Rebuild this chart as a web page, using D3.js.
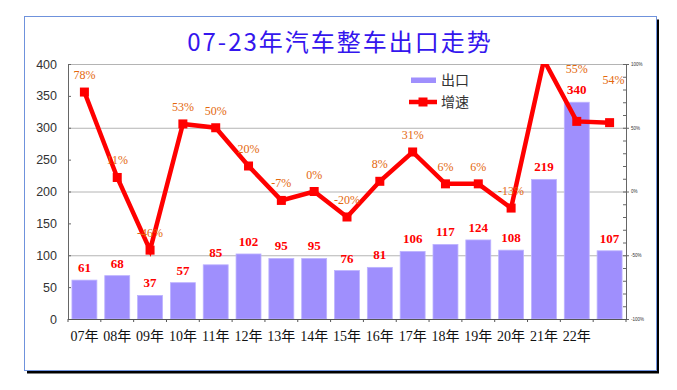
<!DOCTYPE html>
<html><head><meta charset="utf-8">
<script src="https://cdn.jsdelivr.net/npm/d3@7"></script>
<style>html,body{margin:0;padding:0;background:#fff;}svg{display:block;}</style>
</head><body>
<svg id="chart" width="677" height="390"></svg>
<script>
const title = "07-23年汽车整车出口走势";
const categories = ["07年","08年","09年","10年","11年","12年","13年","14年","15年","16年","17年","18年","19年","20年","21年","22年",""];
const exports = [61,68,37,57,85,102,95,95,76,81,106,117,124,108,219,340,107];
const growth = [78,11,-46,53,50,20,-7,0,-20,8,31,6,6,-13,103,55,54];
const leftTicks = [0,50,100,150,200,250,300,350,400];
const rightTicks = [-100,-50,0,50,100];
const legendNames = ["出口","增速"];

const svg = d3.select("#chart");
const L = 68, R = 626, T = 64, B = 319;

// frame with shadow
svg.append("rect").attr("x",27).attr("y",19.5).attr("width",632).attr("height",354).attr("fill","#000");
svg.append("rect").attr("x",24.5).attr("y",16.5).attr("width",632).attr("height",354)
  .attr("fill","#fff").attr("stroke","#6f92dc").attr("stroke-width",1);

// title
svg.append("text").attr("x",340).attr("y",51).attr("text-anchor","middle")
  .attr("font-family","'Noto Sans CJK SC', sans-serif").attr("font-size",24)
  .attr("letter-spacing","2px").attr("fill","#3416ee").text(title);

const x = d3.scaleBand().domain(d3.range(categories.length)).range([L,R]).paddingInner(0.24).paddingOuter(0.12);
const y = d3.scaleLinear().domain([0,400]).range([B,T]);
const y2 = d3.scaleLinear().domain([-100,100]).range([B,T]);

// gridlines every 100
svg.append("g").selectAll("line").data([100,200,300,400]).join("line")
  .attr("x1",L).attr("x2",R).attr("y1",d=>y(d)+0.5).attr("y2",d=>y(d)+0.5)
  .attr("stroke","#b4b4b4").attr("stroke-width",1);

// bars
svg.append("g").selectAll("rect").data(exports).join("rect")
  .attr("x",(d,i)=>x(i)).attr("width",x.bandwidth())
  .attr("y",d=>y(d)).attr("height",d=>B-y(d))
  .attr("fill","#9f8ffd").attr("stroke","#bdb3ff").attr("stroke-width",0.8);

// left axis
const gl = svg.append("g").attr("transform",`translate(${L},0)`)
  .call(d3.axisLeft(y).tickValues(leftTicks).tickSize(-3).tickPadding(11));
gl.select(".domain").attr("stroke","#666");
gl.selectAll(".tick line").attr("stroke","#666");
gl.selectAll("text").attr("font-family","'Liberation Sans', Arial, sans-serif").attr("font-size",12.5).attr("fill","#333");

// right axis
const gr = svg.append("g").attr("transform",`translate(${R},0)`)
  .call(d3.axisRight(y2).tickValues(rightTicks).tickSize(3).tickPadding(2).tickFormat(d=>d+"%"));
gr.select(".domain").attr("stroke","#666");
gr.selectAll(".tick line").attr("stroke","#666");
gr.selectAll("text").attr("font-family","'Liberation Sans', Arial, sans-serif").attr("font-size",4.5).attr("fill","#333");
svg.append("g").selectAll("line").data(d3.range(-100,101,10)).join("line")
  .attr("x1",R-3).attr("x2",R).attr("y1",d=>y2(d)+0.5).attr("y2",d=>y2(d)+0.5)
  .attr("stroke","#666").attr("stroke-width",1);

// x axis
const gx = svg.append("g").attr("transform",`translate(0,${B})`)
  .call(d3.axisBottom(x).tickSize(0).tickPadding(12).tickFormat(i=>categories[i]));
gx.select(".domain").attr("stroke","#555");
gx.selectAll("text").attr("font-family","'Liberation Serif', 'Noto Sans CJK SC', serif").attr("font-size",14).attr("fill","#111");
svg.append("g").selectAll("line").data(d3.range(categories.length+1)).join("line")
  .attr("x1",i=>L+i*x.step()).attr("x2",i=>L+i*x.step()).attr("y1",B).attr("y2",B+3)
  .attr("stroke","#555");

// bar labels
svg.append("g").selectAll("text").data(exports).join("text")
  .attr("x",(d,i)=>x(i)+x.bandwidth()/2).attr("y",d=>y(d)-8)
  .attr("text-anchor","middle").attr("font-family","'Liberation Serif', serif")
  .attr("font-weight","bold").attr("font-size",13).attr("fill","#ff0000").text(d=>d);

// growth line (clipped to plot area)
svg.append("clipPath").attr("id","plotclip").append("rect")
  .attr("x",L-10).attr("y",T).attr("width",R-L+20).attr("height",B-T);
const cx = i=>x(i)+x.bandwidth()/2;
const line = d3.line().x((d,i)=>cx(i)).y(d=>y2(d));
const lg = svg.append("g").attr("clip-path","url(#plotclip)");
lg.append("path").datum(growth).attr("d",line).attr("fill","none")
  .attr("stroke","#ff0000").attr("stroke-width",4.5).attr("stroke-linejoin","miter");
lg.selectAll("rect").data(growth).join("rect")
  .attr("x",(d,i)=>cx(i)-4.5).attr("y",d=>y2(d)-4.5).attr("width",9).attr("height",9)
  .attr("fill","#ff0000").attr("display",d=>d>100?"none":null);

// growth labels
const labelShift = {15:{dx:0,dy:-35},16:{dx:4,dy:-26}};
svg.append("g").selectAll("text").data(growth.map((d,i)=>({d,i})).filter(o=>o.d<=100)).join("text")
  .attr("x",o=>cx(o.i)+(labelShift[o.i]?labelShift[o.i].dx:0))
  .attr("y",o=>y2(o.d)-13+(labelShift[o.i]?labelShift[o.i].dy:0))
  .attr("text-anchor","middle").attr("font-family","'Liberation Serif', serif")
  .attr("font-size",12).attr("fill","#e4680e").text(o=>o.d+"%");

// legend
const lgd = svg.append("g");
lgd.append("rect").attr("x",411).attr("y",77.5).attr("width",25).attr("height",5.5).attr("fill","#9f8ffd");
lgd.append("text").attr("x",441).attr("y",85).attr("font-family","'Noto Sans CJK SC', sans-serif")
  .attr("font-size",14).attr("fill","#333").text(legendNames[0]);
lgd.append("line").attr("x1",409).attr("x2",437).attr("y1",102).attr("y2",102).attr("stroke","#ff0000").attr("stroke-width",4.5);
lgd.append("rect").attr("x",418.5).attr("y",97.5).attr("width",9).attr("height",9).attr("fill","#ff0000");
lgd.append("text").attr("x",441).attr("y",107).attr("font-family","'Noto Sans CJK SC', sans-serif")
  .attr("font-size",14).attr("fill","#333").text(legendNames[1]);
</script>
</body></html>
